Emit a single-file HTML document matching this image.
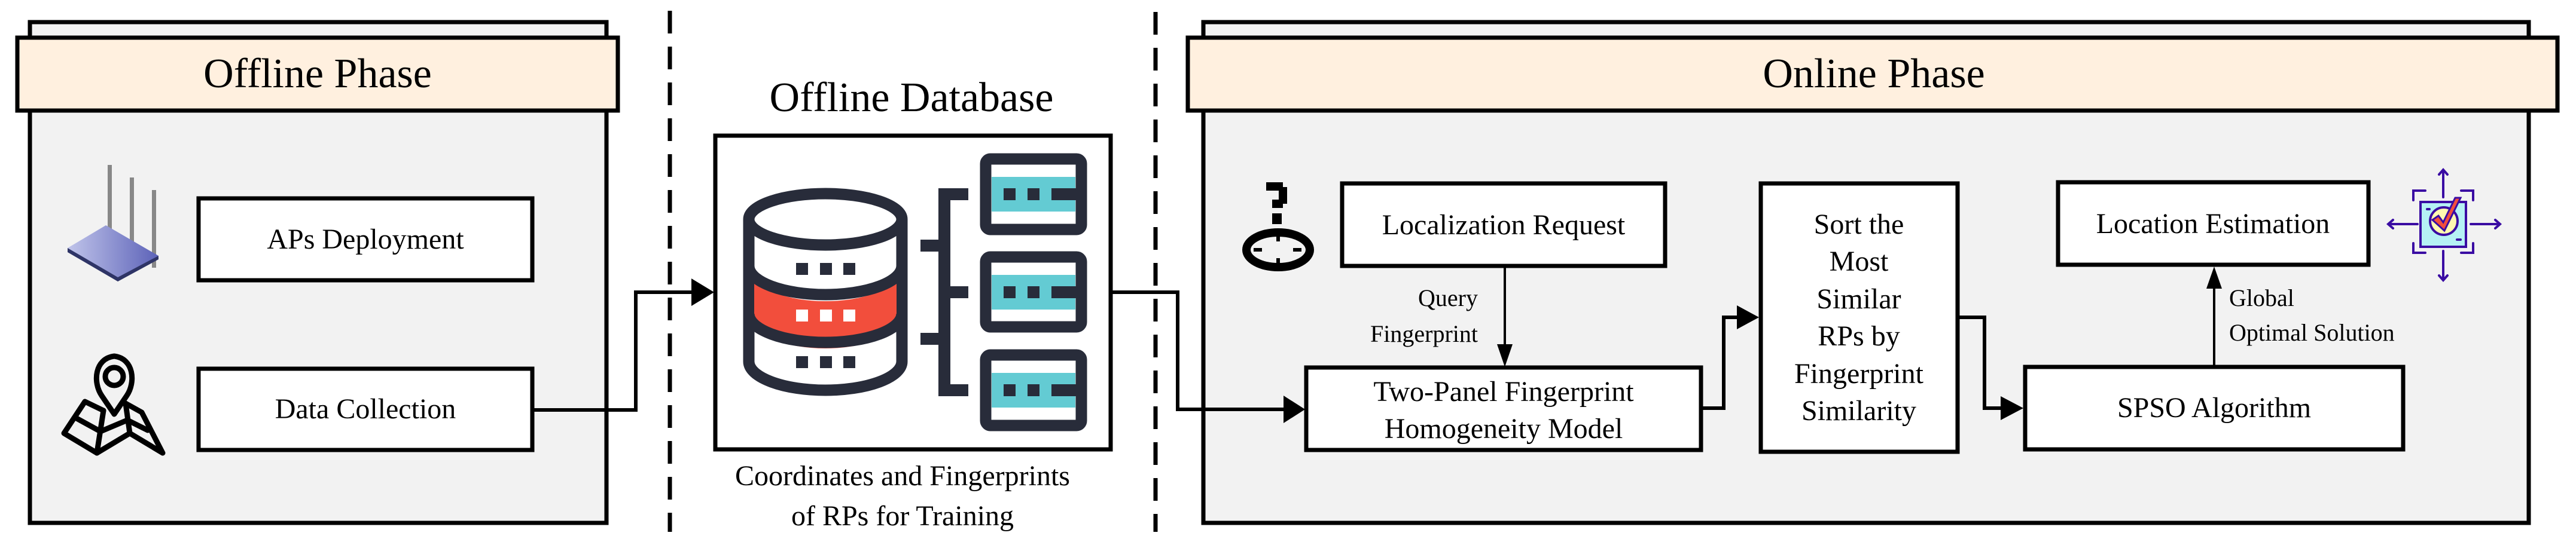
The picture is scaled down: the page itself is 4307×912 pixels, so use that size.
<!DOCTYPE html>
<html><head><meta charset="utf-8"><style>
html,body{margin:0;padding:0;background:#fff;}
svg{display:block;}
text{font-family:"Liberation Serif","Times New Roman",Times,serif;fill:#000;}
</style></head><body>
<svg width="4307" height="912" viewBox="0 0 4307 912" xmlns="http://www.w3.org/2000/svg" font-family="Liberation Serif, Times New Roman, serif">
<defs>
<linearGradient id="rg" x1="0" x2="1" y1="0" y2="0"><stop offset="0" stop-color="#c0c4ea"/><stop offset="1" stop-color="#5c62b8"/></linearGradient>
</defs>
<rect width="4307" height="912" fill="#fff"/>
<!-- Offline phase -->
<rect x="50" y="37" width="964" height="838" fill="#f2f2f2" stroke="#000" stroke-width="7"/>
<rect x="29" y="63" width="1004" height="122" fill="#fff0df" stroke="#000" stroke-width="7"/>
<text x="531" y="146" font-size="70" text-anchor="middle" font-family="Liberation Serif, serif">Offline Phase</text>
<rect x="332" y="332" width="558" height="137" fill="#fff" stroke="#000" stroke-width="7"/>
<text x="611" y="416" font-size="48" text-anchor="middle" font-family="Liberation Serif, serif">APs Deployment</text>
<rect x="332" y="617" width="558" height="136" fill="#fff" stroke="#000" stroke-width="7"/>
<text x="611" y="700" font-size="48" text-anchor="middle" font-family="Liberation Serif, serif">Data Collection</text>
<!-- router -->
<g>
<rect x="180" y="276" width="7" height="120" fill="#888"/>
<rect x="217" y="297" width="7" height="130" fill="#888"/>
<rect x="254" y="318" width="7" height="130" fill="#888"/>
<polygon points="113,415 177,377 265,428 197,471" fill="url(#rg)"/>
<polygon points="113,415 197,464 265,428 265,434 197,471 113,422" fill="#2e3466"/>
</g>
<!-- map -->
<g fill="none" stroke="#000" stroke-width="9" stroke-linejoin="round" stroke-linecap="round">
<path d="M191,693 L170,662 C155,640 158,600 191,596 C224,600 227,640 212,662 Z"/>
<circle cx="191" cy="630" r="15"/>
<polyline points="173,687 142,672 107,725 162,758 217,725 272,758 237,690 210,675"/>
<line x1="173" y1="687" x2="162" y2="758"/>
<line x1="210" y1="675" x2="217" y2="725"/>
<polyline points="128,700 168,722 213,703 247,720"/>
</g>
<!-- dashed separators -->
<line x1="1120" y1="18" x2="1120" y2="890" stroke="#000" stroke-width="7" stroke-dasharray="38,22"/>
<line x1="1932" y1="20" x2="1932" y2="890" stroke="#000" stroke-width="7" stroke-dasharray="38,22"/>
<!-- Offline database -->
<text x="1524" y="186" font-size="70" text-anchor="middle" font-family="Liberation Serif, serif">Offline Database</text>
<rect x="1196" y="227" width="661" height="525" fill="#fff" stroke="#000" stroke-width="7"/>
<g>
<path d="M1252,367 L1252,605 A128,48 0 0 0 1508,605 L1508,367" fill="#fff" stroke="#282c3a" stroke-width="19"/>
<path d="M1261,456 A119,48 0 0 0 1499,456 L1499,535 A119,48 0 0 1 1261,535 Z" fill="#f24e3c"/>
<path d="M1252,445 A128,48 0 0 0 1508,445" fill="none" stroke="#282c3a" stroke-width="19"/>
<path d="M1252,525 A128,48 0 0 0 1508,525" fill="none" stroke="#282c3a" stroke-width="19"/>
<ellipse cx="1380" cy="367" rx="128" ry="43" fill="#fff" stroke="#282c3a" stroke-width="19"/>
<g fill="#282c3a"><rect x="1331" y="440" width="20" height="20"/><rect x="1371" y="440" width="20" height="20"/><rect x="1410" y="440" width="20" height="20"/>
<rect x="1331" y="596" width="20" height="20"/><rect x="1371" y="596" width="20" height="20"/><rect x="1410" y="596" width="20" height="20"/></g>
<g fill="#fff"><rect x="1331" y="518" width="20" height="20"/><rect x="1371" y="518" width="20" height="20"/><rect x="1410" y="518" width="20" height="20"/></g>
<g fill="#282c3a">
<rect x="1569" y="315" width="20" height="348"/>
<rect x="1569" y="315" width="50" height="20"/>
<rect x="1569" y="479" width="50" height="20"/>
<rect x="1569" y="643" width="50" height="20"/>
<rect x="1539" y="401" width="40" height="20"/>
<rect x="1539" y="557" width="40" height="20"/>
</g>
<g>
<rect x="1648" y="266" width="160" height="118" rx="8" fill="#fff" stroke="#282c3a" stroke-width="19"/>
<rect x="1658" y="296" width="140" height="58" fill="#63cbd3"/>
<rect x="1648" y="430" width="160" height="117" rx="8" fill="#fff" stroke="#282c3a" stroke-width="19"/>
<rect x="1658" y="460" width="140" height="58" fill="#63cbd3"/>
<rect x="1648" y="594" width="160" height="118" rx="8" fill="#fff" stroke="#282c3a" stroke-width="19"/>
<rect x="1658" y="624" width="140" height="58" fill="#63cbd3"/>
<g fill="#282c3a">
<rect x="1678" y="315" width="20" height="20"/><rect x="1718" y="315" width="20" height="20"/><rect x="1758" y="315" width="45" height="20"/>
<rect x="1678" y="479" width="20" height="20"/><rect x="1718" y="479" width="20" height="20"/><rect x="1758" y="479" width="45" height="20"/>
<rect x="1678" y="643" width="20" height="20"/><rect x="1718" y="643" width="20" height="20"/><rect x="1758" y="643" width="45" height="20"/>
</g>
</g>
</g>
<text x="1509" y="812" font-size="48" text-anchor="middle" font-family="Liberation Serif, serif">Coordinates and Fingerprints</text>
<text x="1509" y="879" font-size="48" text-anchor="middle" font-family="Liberation Serif, serif">of RPs for Training</text>
<!-- connector offline -> db -->
<polyline points="890,686 1063,686 1063,489 1160,489" fill="none" stroke="#000" stroke-width="6"/>
<polygon points="1156,466 1194,489 1156,512" fill="#000"/>
<!-- Online phase -->
<rect x="2012" y="37" width="2216" height="838" fill="#f2f2f2" stroke="#000" stroke-width="7"/>
<rect x="1986" y="63" width="2290" height="122" fill="#fff0df" stroke="#000" stroke-width="7"/>
<text x="3133" y="146" font-size="70" text-anchor="middle" font-family="Liberation Serif, serif">Online Phase</text>
<!-- db -> two-panel connector -->
<polyline points="1857,489 1969,489 1969,685 2150,685" fill="none" stroke="#000" stroke-width="6"/>
<polygon points="2146,662 2182,685 2146,708" fill="#000"/>
<!-- locate icon -->
<g fill="#000">
<path d="M2117,305 h28 v8 h7 v28 h-7 v7 h-18 v-14 h11 v-15 h-21 z"/>
<rect x="2127" y="357" width="16" height="18"/>
</g>
<ellipse cx="2137" cy="418" rx="53" ry="29" fill="none" stroke="#000" stroke-width="14"/>
<g fill="#000"><rect x="2134" y="392" width="6" height="12"/><rect x="2134" y="432" width="6" height="14"/><rect x="2096" y="415" width="14" height="6"/><rect x="2162" y="415" width="14" height="6"/></g>
<!-- boxes -->
<rect x="2244" y="307" width="540" height="138" fill="#fff" stroke="#000" stroke-width="7"/>
<text x="2514" y="392" font-size="48" text-anchor="middle" font-family="Liberation Serif, serif">Localization Request</text>
<rect x="2184" y="615" width="660" height="138" fill="#fff" stroke="#000" stroke-width="7"/>
<text x="2514" y="671" font-size="48" text-anchor="middle" font-family="Liberation Serif, serif">Two-Panel Fingerprint</text>
<text x="2514" y="733" font-size="48" text-anchor="middle" font-family="Liberation Serif, serif">Homogeneity Model</text>
<line x1="2516" y1="445" x2="2516" y2="580" stroke="#000" stroke-width="4"/>
<polygon points="2503,576 2529,576 2516,614" fill="#000"/>
<text x="2471" y="512" font-size="40" text-anchor="end" font-family="Liberation Serif, serif">Query</text>
<text x="2471" y="572" font-size="40" text-anchor="end" font-family="Liberation Serif, serif">Fingerprint</text>
<rect x="2944" y="307" width="329" height="449" fill="#fff" stroke="#000" stroke-width="7"/>
<g font-size="48" text-anchor="middle" font-family="Liberation Serif, serif">
<text x="3108" y="391">Sort the</text>
<text x="3108" y="453">Most</text>
<text x="3108" y="516">Similar</text>
<text x="3108" y="578">RPs by</text>
<text x="3108" y="641">Fingerprint</text>
<text x="3108" y="703">Similarity</text>
</g>
<polyline points="2847,683 2882,683 2882,531 2906,531" fill="none" stroke="#000" stroke-width="6"/>
<polygon points="2904,511 2941,531 2904,551" fill="#000"/>
<polyline points="3275,531 3318,531 3318,683 3347,683" fill="none" stroke="#000" stroke-width="6"/>
<polygon points="3345,663 3383,683 3345,703" fill="#000"/>
<rect x="3386" y="614" width="632" height="138" fill="#fff" stroke="#000" stroke-width="7"/>
<text x="3702" y="698" font-size="48" text-anchor="middle" font-family="Liberation Serif, serif">SPSO Algorithm</text>
<rect x="3441" y="305" width="519" height="138" fill="#fff" stroke="#000" stroke-width="7"/>
<text x="3700" y="390" font-size="48" text-anchor="middle" font-family="Liberation Serif, serif">Location Estimation</text>
<line x1="3702" y1="612" x2="3702" y2="478" stroke="#000" stroke-width="4"/>
<polygon points="3689,483 3715,483 3702,446" fill="#000"/>
<text x="3727" y="512" font-size="40" font-family="Liberation Serif, serif">Global</text>
<text x="3727" y="570" font-size="40" font-family="Liberation Serif, serif">Optimal Solution</text>
<!-- target icon -->
<g stroke="#3a0ca3" stroke-width="4" fill="none" stroke-linecap="round">
<rect x="4047" y="338" width="76" height="75" fill="#b5f1f4"/>
<circle cx="4086" cy="370" r="23" fill="#fff9b0"/>
<path d="M4035,335 v-16 h20 M4115,319 h20 v16 M4035,407 v16 h20 M4115,423 h20 v-16"/>
<path d="M4085,330 v-45 M4078,292 l7,-8 l7,8 M4085,420 v48 M4078,461 l7,8 l7,-8 M4042,375 h-48 M4001,368 l-8,7 l8,7 M4131,375 h48 M4172,368 l8,7 l-8,7"/>
<line x1="4058" y1="350" x2="4062" y2="350"/><line x1="4108" y1="401" x2="4114" y2="401"/>
</g>
<polygon points="4067,368 4077,361 4085,372 4105,331 4114,331 4087,386" fill="#f24e3c" stroke="#3a0ca3" stroke-width="3"/>
</svg>
</body></html>
